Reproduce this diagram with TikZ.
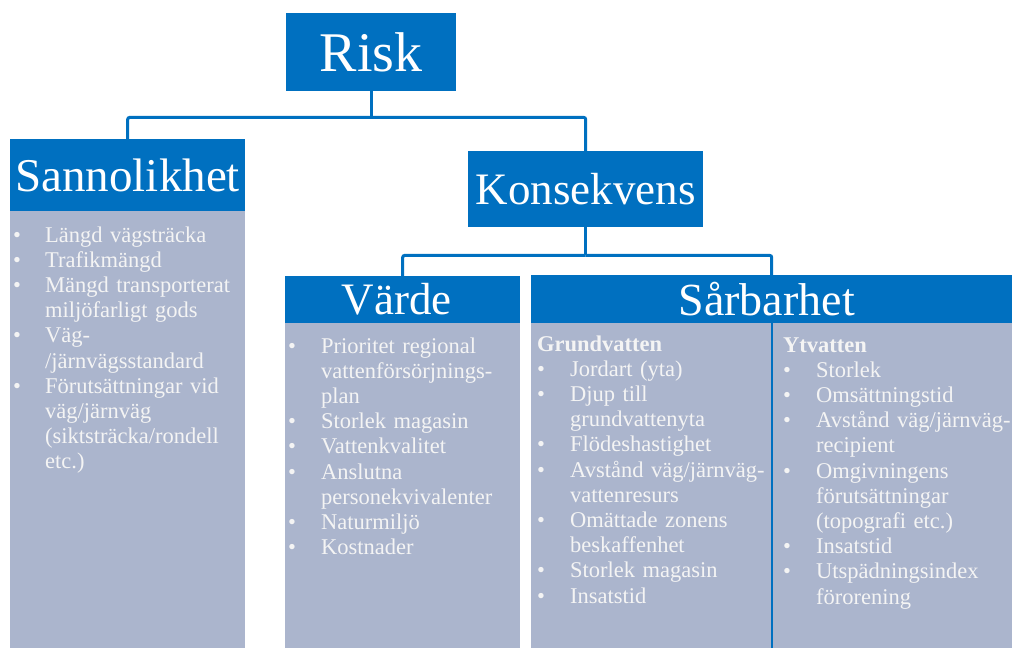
\documentclass[tikz,border=0pt]{standalone}
\usepackage{fontspec}
\setmainfont{Liberation Serif}
\definecolor{hdrblue}{HTML}{0070C0}
\definecolor{bodygray}{HTML}{ABB5CD}
\definecolor{txtwhite}{HTML}{F4F4F4}
\newcommand{\bitemx}[2][32pt]{\noindent\hangindent=#1\hangafter=1\makebox[#1][l]{\textbullet}#2}
\newcommand{\bitem}[2][32pt]{\par\bitemx[#1]{#2}}
\begin{document}
\begin{tikzpicture}[x=1pt,y=-1pt,
  hdr/.style={fill=hdrblue, text=white, inner sep=0pt, anchor=north west},
  bodybox/.style={fill=bodygray, inner sep=0pt, anchor=north west},
  conn/.style={draw=hdrblue, line width=3pt},
  lst/.style={anchor=base west, inner sep=0pt, text=txtwhite, text width=320pt,
    font=\fontsize{22.5}{25.2}\selectfont}]
\useasboundingbox (0,0) rectangle (1012,648);

% header boxes
\node[hdr, minimum width=170pt, minimum height=78pt, font=\fontsize{56}{60}\selectfont] (risk) at (286,13) {Risk};
\node[hdr, minimum width=235pt, minimum height=72pt, font=\fontsize{47}{50}\selectfont] (sann) at (10,139) {Sannolikhet};
\node[hdr, minimum width=235pt, minimum height=76pt, font=\fontsize{45}{50}\selectfont] (kons) at (468,151) {Konsekvens};
\node[hdr, minimum width=235pt, minimum height=47pt, font=\fontsize{45}{50}\selectfont] (varde) at (285,276) {Värde\hspace*{12pt}};
\node[hdr, minimum width=481pt, minimum height=48pt, font=\fontsize{46}{50}\selectfont] (sarb) at (531,275) {Sårbarhet\hspace*{10pt}};

% body boxes
\node[bodybox, minimum width=235pt, minimum height=437pt] (sannbody) at (10,211) {};
\node[bodybox, minimum width=235pt, minimum height=325pt] (vardebody) at (285,323) {};
\node[bodybox, minimum width=481pt, minimum height=325pt] (sarbbody) at (531,323) {};
\draw[hdrblue, line width=2pt] (sarbbody.north) -- (sarbbody.south);

% connectors
\draw[conn] (risk.south) -- ++(0,26) coordinate (j1);
\draw[conn, rounded corners=2pt] (j1) -| (sann.north);
\draw[conn, rounded corners=2pt] (j1) -| (kons.north);
\draw[conn] (kons.south) -- ++(0,28) coordinate (j2);
\draw[conn, rounded corners=2pt] (j2) -| (varde.north);
\draw[conn, rounded corners=2pt] (j2) -| (sarb.north);

% lists
\node[lst] (sannlist) at (13,242) {\bitemx{Längd vägsträcka}\bitem{Trafikmängd}\bitem{Mängd transporterat\newline miljöfarligt gods}\bitem{Väg-\newline /järnvägsstandard}\bitem{Förutsättningar vid\newline väg/järnväg\newline (siktsträcka/rondell\newline etc.)}\par};

\node[lst] (vardelist) at (288,353) {\bitemx[33pt]{Prioritet regional\newline vattenförsörjnings-\newline plan}\bitem[33pt]{Storlek magasin}\bitem[33pt]{Vattenkvalitet}\bitem[33pt]{Anslutna\newline personekvivalenter}\bitem[33pt]{Naturmiljö}\bitem[33pt]{Kostnader}\par};

\node[lst] (grundlist) at (537,351) {\noindent\textbf{Grundvatten}\bitem[33pt]{Jordart (yta)}\bitem[33pt]{Djup till\newline grundvattenyta}\bitem[33pt]{Flödeshastighet}\bitem[33pt]{Avstånd väg/järnväg-\newline vattenresurs}\bitem[33pt]{Omättade zonens\newline beskaffenhet}\bitem[33pt]{Storlek magasin}\bitem[33pt]{Insatstid}\par};

\node[lst] (ytlist) at (783,352) {\noindent\textbf{Ytvatten}\bitem[33pt]{Storlek}\bitem[33pt]{Omsättningstid}\bitem[33pt]{Avstånd väg/järnväg-\newline recipient}\bitem[33pt]{Omgivningens\newline förutsättningar\newline (topografi etc.)}\bitem[33pt]{Insatstid}\bitem[33pt]{Utspädningsindex\newline förorening}\par};
\end{tikzpicture}
\end{document}
